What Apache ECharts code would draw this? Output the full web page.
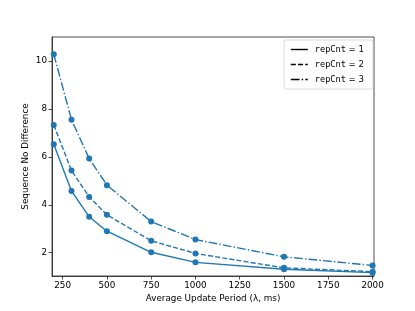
<!DOCTYPE html>
<html><head><meta charset="utf-8">
<script src="https://cdn.jsdelivr.net/npm/echarts@6/dist/echarts.min.js"></script>
<style>html,body{margin:0;padding:0;background:#fff}#c{width:415px;height:311px}</style>
</head><body><div id="c"></div>
<script>
const periods = [200, 300, 400, 500, 750, 1000, 1500, 2000];
const rep1 = [6.53, 4.58, 3.5, 2.9, 2.02, 1.6, 1.31, 1.17];
const rep2 = [7.33, 5.43, 4.33, 3.58, 2.5, 1.97, 1.37, 1.21];
const rep3 = [10.28, 7.55, 5.93, 4.82, 3.3, 2.55, 1.83, 1.47];
const xTicks = [250, 500, 750, 1000, 1250, 1500, 1750, 2000];
const yTicks = [2, 4, 6, 8, 10];
const names = ['repCnt = 1', 'repCnt = 2', 'repCnt = 3'];
const C = '#1f77b4';
const dashes = ['solid', [5, 2.2], [8.7, 2.2, 1.4, 2.2]];
const seriesData = [rep1, rep2, rep3];
const series = [];
seriesData.forEach((d, i) => {
  series.push({
    name: names[i], type: 'line', data: periods.map((p, j) => [p, d[j]]),
    symbol: 'none', lineStyle: {color: C, width: 1.4, type: dashes[i]},
    itemStyle: {color: C}, z: 2
  });
});
seriesData.forEach((d, i) => {
  series.push({
    type: 'scatter', data: periods.map((p, j) => [p, d[j]]),
    symbol: 'circle', symbolSize: 6, itemStyle: {color: C, opacity: 1}, z: 3
  });
});
const chart = echarts.init(document.getElementById('c'), null, {renderer: 'canvas'});
chart.setOption({
  animation: false,
  backgroundColor: '#fff',
  grid: {left: 52, right: 41, top: 37, bottom: 35, show: true, borderColor: '#222', borderWidth: 0.8, backgroundColor: 'transparent'},
  legend: {
    right: 42, top: 40, orient: 'vertical', data: names,
    itemWidth: 17, itemHeight: 8, itemGap: 6,
    itemStyle: {opacity: 0},
    lineStyle: {color: '#000', width: 1.4},
    backgroundColor: '#fff', borderColor: '#d0d0d0', borderWidth: 0.8, borderRadius: 2,
    padding: [5, 9, 5, 6],
    formatter: n => '{m|repCnt}{t| = ' + n.slice(-1) + '}',
    textStyle: {padding: [0, 0, 0, 2], rich: {m: {fontFamily: 'DejaVu Sans Mono', fontSize: 8.6, color: '#000'}, t: {fontFamily: 'DejaVu Sans', fontSize: 8.6, color: '#000'}}}
  },
  xAxis: {
    type: 'value', min: 190, max: 2008,
    name: 'Average Update Period (λ, ms)', nameLocation: 'middle', nameGap: 18, nameMoveOverlap: false,
    nameTextStyle: {fontFamily: 'DejaVu Sans', fontSize: 8.8, color: '#000'},
    axisLine: {show: true, lineStyle: {color: '#222', width: 0.8}},
    axisTick: {show: true, length: 3.5, customValues: xTicks, lineStyle: {color: '#222', width: 0.8}},
    axisLabel: {customValues: xTicks, formatter: v => String(v), fontFamily: 'DejaVu Sans', fontSize: 8.8, color: '#000', margin: 5, showMinLabel: true, showMaxLabel: true},
    splitLine: {show: false}
  },
  yAxis: {
    type: 'value', min: 1.03, max: 11,
    name: 'Sequence No Difference', nameLocation: 'middle', nameGap: 22, nameRotate: 90, nameMoveOverlap: false,
    nameTextStyle: {fontFamily: 'DejaVu Sans', fontSize: 8.8, color: '#000'},
    axisLine: {show: true, lineStyle: {color: '#222', width: 0.8}},
    axisTick: {show: true, length: 3.5, customValues: yTicks, lineStyle: {color: '#222', width: 0.8}},
    axisLabel: {customValues: yTicks, fontFamily: 'DejaVu Sans', fontSize: 8.8, color: '#000', margin: 5},
    splitLine: {show: false}
  },
  series: series
});
</script></body></html>
